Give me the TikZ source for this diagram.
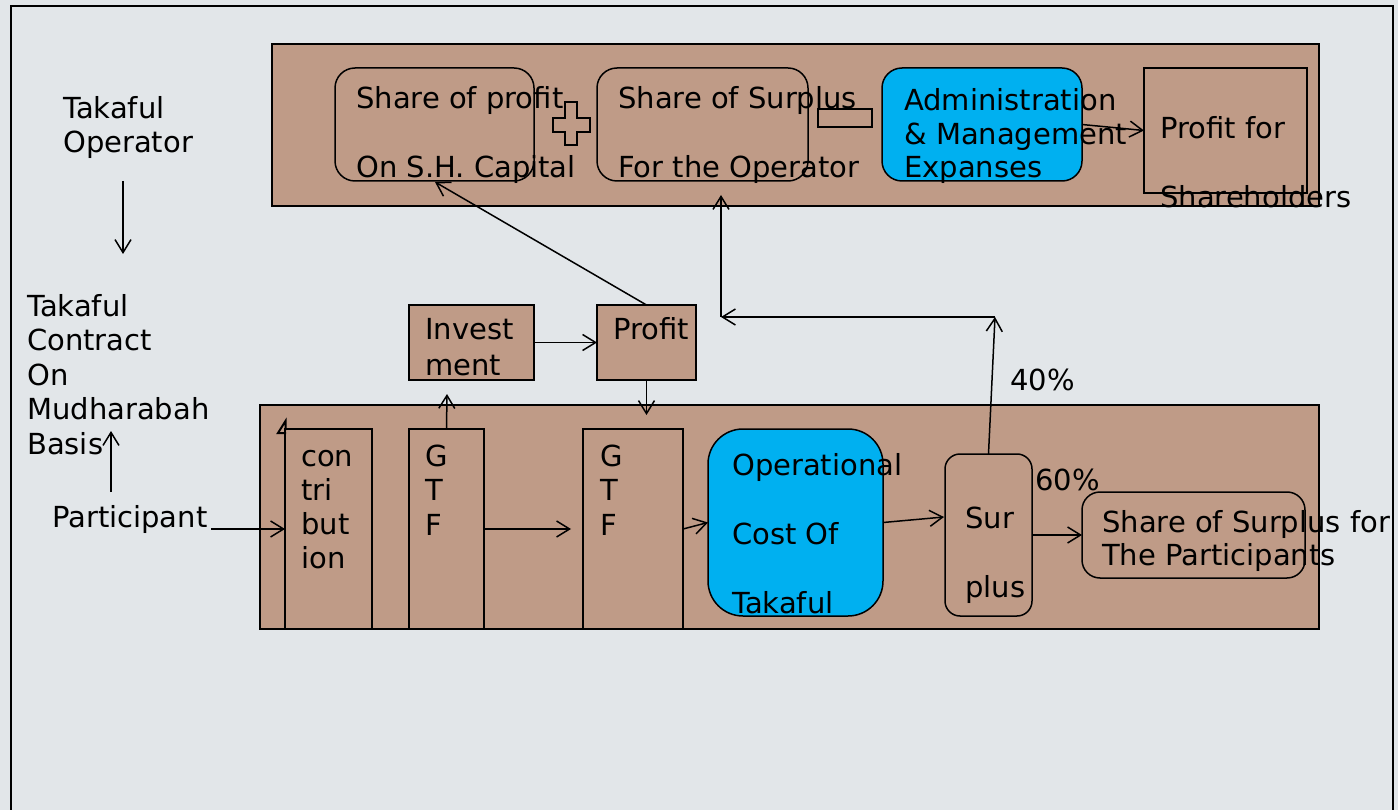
\documentclass[tikz,border=0pt]{standalone}
\usepackage{fontspec}
\setmainfont{DejaVu Sans}
\usetikzlibrary{arrows.meta}
\definecolor{bggray}{HTML}{E2E6E9}
\definecolor{tbrown}{HTML}{BF9B87}
\definecolor{tblue}{HTML}{00B0F0}
\tikzset{
  boxa/.style={draw, line width=1.5pt, anchor=north west, inner sep=0pt, outer sep=0pt},
  boxsize/.style 2 args={minimum width=#1pt, minimum height=#2pt},
  panel/.style={boxa, fill=tbrown},
  roundbox/.style={boxa, fill=tbrown, rounded corners=#1},
  bluebox/.style={boxa, fill=tblue, rounded corners=#1},
  lbl/.style={anchor=base west, inner sep=0pt, align=left, font=\fontsize{29}{34.5}\selectfont},
  conn/.style={line width=1.5pt, -{Straight Barb[length=13pt,width=16pt]}},
}

\begin{document}
\begin{tikzpicture}[x=1pt, y=-1pt]
		%%%%% START %%%%%
		
		\useasboundingbox (0,0) rectangle (1398,810);
		\fill[bggray] (0,0) rectangle (1398,810);
		\draw[line width=2pt] (11,815) -- (11,6) -- (1393,6) -- (1393,815);
		
		% operator side
		\node[panel, boxsize={1047}{162}] (oppanel) at (272,44) {};
		\node[roundbox=20pt, boxsize={199}{113}] (shprofit) at (335,68) {};
		\node[roundbox=20pt, boxsize={211}{113}] (shsurplus) at (597,68) {};
		\node[bluebox=20pt, boxsize={200}{113}] (admin) at (882,68) {};
		\node[panel, boxsize={163}{125}] (shprofitfor) at (1144,68) {};
		\node[panel, boxsize={54}{18}] (minus) at (818,109) {};
		\draw[line width=1.5pt, fill=tbrown] (565,102) -- (577,102) -- (577,118) -- (590,118) -- (590,132) -- (577,132)
			-- (577,145) -- (565,145) -- (565,132) -- (553,132) -- (553,118) -- (565,118) -- cycle;
		
		% last line of each label sits on the given baseline
		\node[lbl] (tshprofit) at (356,178) {Share of profit\\[34.5pt]On S.H. Capital};
		\node[lbl] (tshsurplus) at (618,178) {Share of Surplus\\[34.5pt]For the Operator};
		\node[lbl, font=\fontsize{29}{33.5}\selectfont] (tadmin) at (904,178) {Administration\\\& Management\\Expanses};
		\node[lbl] (tshprofitfor) at (1160,208) {Profit for\\[34.5pt]Shareholders};
		
		% participant side
		\node[panel, boxsize={125}{75}] (invest) at (409,305) {};
		\node[panel, boxsize={99}{75}] (profit) at (597,305) {};
		\node[panel, boxsize={1059}{224}] (partpanel) at (260,405) {};
		\node[panel, boxsize={87}{200}] (contrib) at (285,429) {};
		\node[panel, boxsize={75}{200}] (gtfa) at (409,429) {};
		\node[panel, boxsize={100}{200}] (gtfb) at (583,429) {};
		\node[bluebox=35pt, boxsize={175}{187}] (opcost) at (708,429) {};
		\node[roundbox=15pt, boxsize={87}{162}] (surplus) at (945,454) {};
		\node[roundbox=18pt, boxsize={223}{86}] (sharepart) at (1082,492) {};
		\draw[line width=2pt] (286,433) -- (278,433) -- (285.5,421) -- (285.5,430);
		
		\node[lbl, font=\fontsize{29}{36}\selectfont] (tinvest) at (425,376) {Invest\\ment};
		\node[lbl] (tprofit) at (613,340) {Profit};
		\node[lbl, font=\fontsize{29}{34}\selectfont] (tcontrib) at (301,568) {con\\tri\\but\\ion};
		\node[lbl] (tgtfa) at (425,535) {G\\T\\F};
		\node[lbl] (tgtfb) at (600,535) {G\\T\\F};
		\node[lbl] (topcost) at (732,613) {Operational\\[34.5pt]Cost Of\\[34.5pt]Takaful};
		\node[lbl] (tsurplus) at (965,597) {Sur\\[34.5pt]plus};
		\node[lbl, font=\fontsize{29}{33}\selectfont] (tsharepart) at (1102,565) {Share of Surplus for\\The Participants};
		\node[lbl] (tsixty) at (1035,490) {60\%};
		\node[lbl] (tforty) at (1010,390) {40\%};
		
		% left column
		\node[lbl] (toperator) at (63,153) {Takaful\\Operator};
		\node[lbl] (tcontract) at (27,454) {Takaful\\Contract\\On\\Mudharabah\\Basis};
		\node[lbl] (participant) at (52,527) {Participant};
		
		\coordinate (opa) at (123,181);
		\coordinate (opb) at (123,254);
		\coordinate (pta) at (111,492);
		\coordinate (ptb) at (111,431);
		\coordinate (partout) at (211,529);
		\coordinate (invin) at (447,394);
		\coordinate (gtfin) at (646.5,415);
		\coordinate (gtfmid) at (571,529);
		\coordinate (surin) at (944,517);
		\coordinate (turn) at (995,317);
		\coordinate (join) at (721,317);
		\coordinate (surop) at (721,195);
		\coordinate (shcap) at (435,182);
		
		\draw[conn] (opa) -- (opb);
		\draw[conn] (pta) -- (ptb);
		\draw[conn] (partout) -- (contrib.west);
		\draw[conn] (gtfa.north) -- (invin);
		\draw[conn] (invest.east) -- (profit.west);
		\draw[conn] (profit.south) -- (gtfin);
		\draw[conn] (profit.north) -- (shcap);
		\draw[conn] (gtfa.east) -- (gtfmid);
		\draw[conn] (gtfb.east) -- (opcost.west);
		\draw[conn] (opcost.east) -- (surin);
		\draw[conn] (surplus.east) -- (sharepart.west);
		\draw[conn] (surplus.north) -- (turn);
		\draw[conn] (turn) -- (join);
		\draw[conn] (join) -- (surop);
		\draw[conn] (admin.east) -- (shprofitfor.west);
		
		%%%%% END %%%%%
\end{tikzpicture}
\end{document}
